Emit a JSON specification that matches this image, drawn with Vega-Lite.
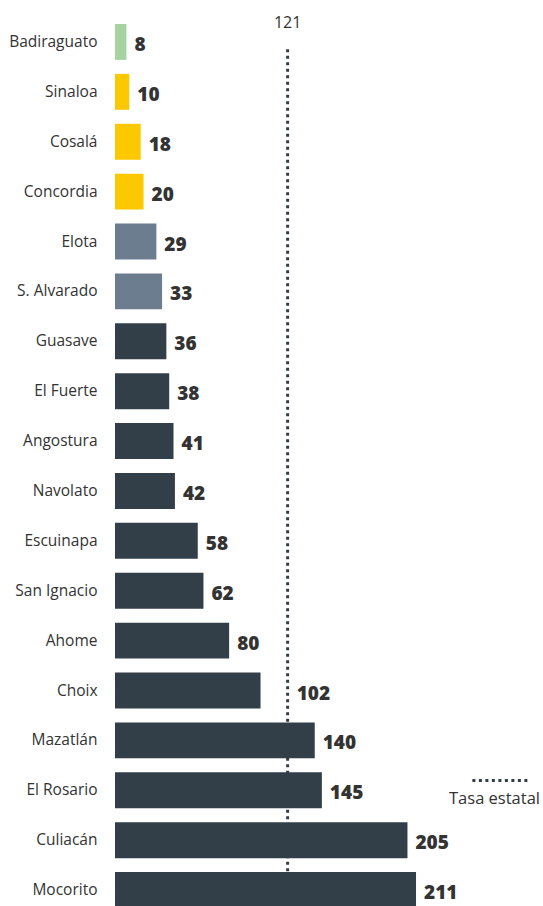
{
  "$schema": "https://vega.github.io/schema/vega-lite/v6.json",
  "width": 428,
  "height": 898,
  "autosize": {"type": "none"},
  "padding": {"left": 115, "top": 17, "right": 0, "bottom": 0},
  "background": "white",
  "config": {"view": {"stroke": null}, "font": "Open Sans"},
  "data": {
    "values": [
      {"municipio": "Badiraguato", "tasa": 8, "grupo": "a"},
      {"municipio": "Sinaloa", "tasa": 10, "grupo": "b"},
      {"municipio": "Cosalá", "tasa": 18, "grupo": "b"},
      {"municipio": "Concordia", "tasa": 20, "grupo": "b"},
      {"municipio": "Elota", "tasa": 29, "grupo": "c"},
      {"municipio": "S. Alvarado", "tasa": 33, "grupo": "c"},
      {"municipio": "Guasave", "tasa": 36, "grupo": "d"},
      {"municipio": "El Fuerte", "tasa": 38, "grupo": "d"},
      {"municipio": "Angostura", "tasa": 41, "grupo": "d"},
      {"municipio": "Navolato", "tasa": 42, "grupo": "d"},
      {"municipio": "Escuinapa", "tasa": 58, "grupo": "d"},
      {"municipio": "San Ignacio", "tasa": 62, "grupo": "d"},
      {"municipio": "Ahome", "tasa": 80, "grupo": "d"},
      {"municipio": "Choix", "tasa": 102, "grupo": "d"},
      {"municipio": "Mazatlán", "tasa": 140, "grupo": "d"},
      {"municipio": "El Rosario", "tasa": 145, "grupo": "d"},
      {"municipio": "Culiacán", "tasa": 205, "grupo": "d"},
      {"municipio": "Mocorito", "tasa": 211, "grupo": "d"}
    ]
  },
  "layer": [
    {
      "data": {"values": [{"estatal": 121}]},
      "mark": {"type": "rule", "strokeDash": [3, 3.5], "strokeWidth": 3, "color": "#333d47"},
      "encoding": {
        "x": {"field": "estatal", "type": "quantitative", "scale": {"domain": [0, 300]}, "axis": null},
        "y": {"datum": "Badiraguato", "type": "nominal", "bandPosition": 0.7},
        "y2": {"datum": "Mocorito"}
      }
    },
    {
      "mark": {"type": "bar"},
      "encoding": {
        "y": {
          "field": "municipio",
          "type": "nominal",
          "sort": null,
          "scale": {
            "domain": ["Badiraguato", "Sinaloa", "Cosalá", "Concordia", "Elota", "S. Alvarado", "Guasave", "El Fuerte", "Angostura", "Navolato", "Escuinapa", "San Ignacio", "Ahome", "Choix", "Mazatlán", "El Rosario", "Culiacán", "Mocorito"],
            "paddingInner": 0.28,
            "paddingOuter": 0.14
          },
          "axis": {
            "title": null,
            "domain": false,
            "ticks": false,
            "labelPadding": 18,
            "labelFontSize": 15.5,
            "labelColor": "#333333",
            "labelFont": "Open Sans",
            "labelFontWeight": "normal"
          }
        },
        "x": {"field": "tasa", "type": "quantitative", "scale": {"domain": [0, 300]}, "axis": null},
        "color": {
          "field": "grupo",
          "type": "nominal",
          "scale": {"domain": ["a", "b", "c", "d"], "range": ["#a6d4a0", "#fcc800", "#6c7d8f", "#323e48"]},
          "legend": null
        }
      }
    },
    {
      "transform": [{"filter": "datum.municipio !== 'Choix'"}],
      "mark": {"type": "text", "align": "left", "baseline": "middle", "dx": 8, "dy": 3, "fontSize": 19, "fontWeight": 800, "color": "#333333", "font": "Open Sans"},
      "encoding": {
        "y": {"field": "municipio", "type": "nominal", "sort": null},
        "x": {"field": "tasa", "type": "quantitative"},
        "text": {"field": "tasa", "type": "quantitative"}
      }
    },
    {
      "transform": [{"filter": "datum.municipio === 'Choix'"}],
      "mark": {"type": "text", "align": "left", "baseline": "middle", "dx": 9, "dy": 3, "fontSize": 19, "fontWeight": 800, "color": "#333333", "font": "Open Sans"},
      "encoding": {
        "y": {"field": "municipio", "type": "nominal", "sort": null},
        "x": {"datum": 121, "type": "quantitative"},
        "text": {"field": "tasa", "type": "quantitative"}
      }
    },
    {
      "data": {"values": [{"estatal": 121}]},
      "mark": {"type": "text", "align": "center", "baseline": "alphabetic", "dy": 4, "fontSize": 16, "fontWeight": "normal", "color": "#333333", "font": "Open Sans"},
      "encoding": {
        "x": {"field": "estatal", "type": "quantitative"},
        "y": {"datum": "Badiraguato", "type": "nominal", "bandPosition": 0},
        "text": {"field": "estatal", "type": "quantitative"}
      }
    },
    {
      "data": {"values": [{"etiqueta": "Tasa estatal"}]},
      "mark": {"type": "rule", "strokeDash": [3, 3.5], "strokeWidth": 3, "color": "#333d47"},
      "encoding": {
        "x": {"datum": 250.5, "type": "quantitative"},
        "x2": {"datum": 289.5},
        "y": {"datum": "El Rosario", "type": "nominal", "bandPosition": 0.23}
      }
    },
    {
      "data": {"values": [{"etiqueta": "Tasa estatal"}]},
      "mark": {"type": "text", "align": "center", "baseline": "alphabetic", "fontSize": 16.5, "fontWeight": "normal", "color": "#333333", "font": "Open Sans"},
      "encoding": {
        "x": {"datum": 266, "type": "quantitative"},
        "y": {"datum": "El Rosario", "type": "nominal", "bandPosition": 0.87},
        "text": {"field": "etiqueta", "type": "nominal"}
      }
    }
  ]
}
